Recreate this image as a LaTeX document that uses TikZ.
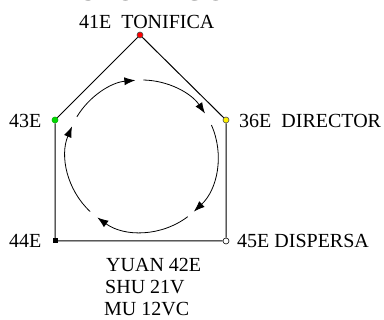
\documentclass[tikz,border=0pt]{standalone}
\usepackage{fontspec}
\setmainfont{Liberation Serif}
\usetikzlibrary{arrows.meta}
\tikzset{
  lbl/.style={anchor=base west, inner sep=0pt, font=\fontsize{20}{22}\selectfont, text=black},
  edge/.style={draw=black, line width=1pt},
  cyc/.style={draw=black, line width=0.8pt, -{Latex[length=11pt,width=8pt]}},
  dot/.style={circle, inner sep=0pt, minimum size=6pt, line width=0.6pt},
}
\begin{document}
\begin{tikzpicture}[x=1pt,y=1pt]
\useasboundingbox (0,0) rectangle (384,-320);
% cut-off title
\begin{scope}
\clip (0,0) rectangle (384,-320);
\node[anchor=base west, inner sep=0pt, font=\fontsize{28}{30}\selectfont\bfseries] (title) at (62,-1) {ESTOMAGO};
\end{scope}
% points
\node[dot, fill=red, draw=black!70] (t) at (140,-35) {};
\node[dot, fill=green!85!black, draw=green!70!black] (l) at (55,-120) {};
\node[dot, fill=yellow, draw=black!70] (r) at (226,-120) {};
\node[rectangle, fill=black, inner sep=0pt, minimum size=5pt] (bl) at (55,-241) {};
\node[dot, fill=white, draw=black] (br) at (226,-241) {};
% polygon
\draw[edge] (t) -- (l) -- (bl) -- (br) -- (r) -- (t);
% labels
\node[lbl] (lt) at (79,-29) {41E\ \ TONIFICA};
\node[lbl] (ll) at (9,-128) {43E};
\node[lbl] (lr) at (239,-128) {36E\ \ DIRECTOR};
\node[lbl] (lbl1) at (9,-248) {44E};
\node[lbl] (lbr) at (237,-248) {45E DISPERSA};
\node[lbl] (yuan) at (106,-272) {YUAN 42E};
\node[lbl] (shu) at (105,-294) {SHU 21V};
\node[lbl] (mu) at (104,-316) {MU 12VC};
% cycle
\coordinate (c) at (142,-156);
\foreach \a/\b in {149/95, 89/34, 24/-47, -53/-126, -133/-203} {
  \draw[cyc] ([shift={(\a:76)}]c) arc[start angle=\a, end angle=\b, radius=76];
}
\end{tikzpicture}
\end{document}
